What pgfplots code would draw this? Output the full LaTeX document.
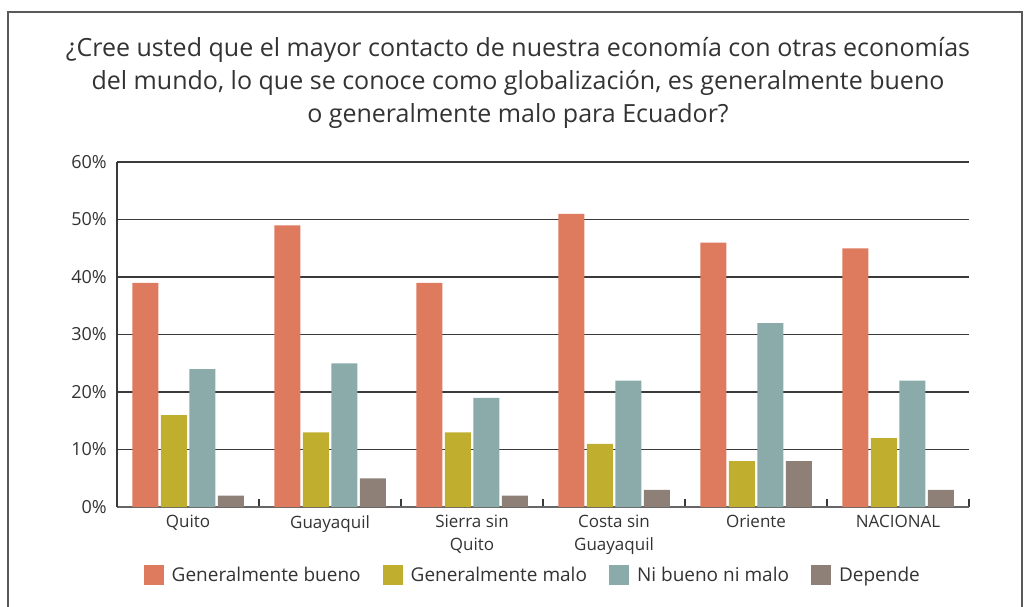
\documentclass[border=0pt]{standalone}
\usepackage{pgfplots}
\pgfplotsset{compat=1.18}
\usepackage{fontspec}
\setmainfont{Open Sans}

\definecolor{cBueno}{HTML}{DE7A5E}
\definecolor{cMalo}{HTML}{C0AF2E}
\definecolor{cNi}{HTML}{8BAAAA}
\definecolor{cDep}{HTML}{8E8076}
\definecolor{txt}{HTML}{333333}
\definecolor{gridc}{HTML}{3A3A3A}

\begin{document}
\begin{tikzpicture}[x=1pt,y=1pt]
\path[use as bounding box] (0,0) rectangle (1033,606);
\draw[gray!70!black, line width=1.3pt] (8,-20) -- (8,594) -- (1022,594) -- (1022,-20);

\node[text=txt, align=center, font=\fontsize{25}{33}\selectfont] at (518,523)
  {¿Cree usted que el mayor contacto de nuestra economía con otras economías\\
   del mundo, lo que se conoce como globalización, es generalmente bueno\\
   o generalmente malo para Ecuador?};

\begin{axis}[
    at={(117pt,99pt)}, anchor=south west,
    scale only axis, width=852pt, height=345pt,
    ybar=2.5pt, bar width=26pt,
    xmin=-0.5, xmax=5.5, ymin=0, ymax=60,
    xtick=data,
    xticklabels={Quito,Guayaquil,{Sierra sin\\Quito},{Costa sin\\Guayaquil},Oriente,NACIONAL},
    major x tick style={draw=none},
    minor xtick={-0.5,0.5,1.5,2.5,3.5,4.5,5.5},
    minor tick length=8pt,
    tick align=inside,
    minor x tick style={draw=gridc, line width=1.2pt},
    ytick={0,10,...,60},
    yticklabel={\pgfmathprintnumber{\tick}\%},
    /pgf/number format/assume math mode=true,
    ymajorgrids, major grid style={draw=gridc, line width=1.3pt},
    major y tick style={draw=none},
    axis x line*=bottom, axis y line*=left,
    x axis line style={draw=gray!80!black, line width=1.8pt, -},
    y axis line style={draw=gridc, line width=1.2pt, -},
    ticklabel style={text=txt},
    yticklabel style={font=\fontsize{18}{20}\selectfont, anchor=east, inner sep=0pt, xshift=-10pt},
    xticklabel style={font=\fontsize{17}{23}\selectfont, align=center, anchor=north, inner sep=0pt, yshift=-8pt},
    legend columns=4,
    legend style={at={(0.488,-0.197)}, anchor=center, draw=none, fill=none,
        font=\fontsize{19}{22}\selectfont, text=txt,
        /tikz/every odd column/.append style={column sep=6pt},
        /tikz/every even column/.append style={column sep=20pt}},
    legend image code/.code={\fill[#1] (0pt,-10pt) rectangle (20pt,10pt);},
]
\addplot[fill=cBueno, draw=none] coordinates {(0,39) (1,49) (2,39) (3,51) (4,46) (5,45)};
\addplot[fill=cMalo, draw=none] coordinates {(0,16) (1,13) (2,13) (3,11) (4,8) (5,12)};
\addplot[fill=cNi, draw=none] coordinates {(0,24) (1,25) (2,19) (3,22) (4,32) (5,22)};
\addplot[fill=cDep, draw=none] coordinates {(0,2) (1,5) (2,2) (3,3) (4,8) (5,3)};
\legend{Generalmente bueno, Generalmente malo, Ni bueno ni malo, Depende}
\end{axis}
\end{tikzpicture}
\end{document}
